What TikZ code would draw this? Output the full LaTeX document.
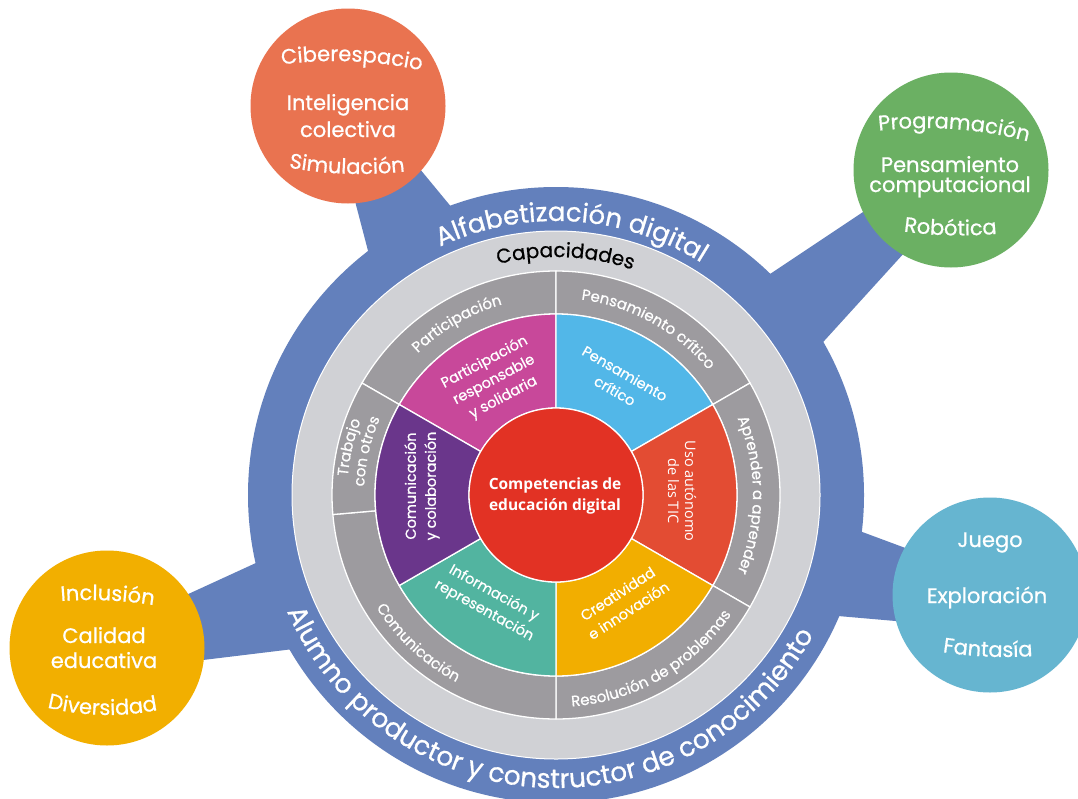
\documentclass[tikz,border=0pt]{standalone}
\usepackage{fontspec}
\usetikzlibrary{calc,decorations.text}
\newfontfamily\pop{Poppins}[FakeBold=0.7]
\newfontfamily\osans{Open Sans}
\definecolor{ringblue}{RGB}{99,128,188}
\definecolor{lgray}{RGB}{208,209,213}
\definecolor{mgray}{RGB}{157,155,159}
\definecolor{cred}{RGB}{226,50,36}
\definecolor{cpink}{RGB}{200,72,154}
\definecolor{clblue}{RGB}{82,183,232}
\definecolor{corange}{RGB}{227,76,51}
\definecolor{cyellow}{RGB}{242,174,0}
\definecolor{cteal}{RGB}{82,180,160}
\definecolor{cpurple}{RGB}{106,54,139}
\definecolor{sorange}{RGB}{233,115,80}
\definecolor{sgreen}{RGB}{107,176,99}
\definecolor{scyan}{RGB}{102,181,208}
\definecolor{syellow}{RGB}{242,175,0}
\newcommand\fAlf{\pop\fontsize{26}{30}\selectfont}
\newcommand\fAlu{\pop\fontsize{26.5}{30}\selectfont}
\newcommand\fCap{\pop\fontsize{20}{24}\selectfont}
\newcommand\fGray{\pop\fontsize{15}{18}\selectfont}
\newcommand\fSat{\pop\fontsize{21}{25}\selectfont}
\newcommand\fSeg{\pop\fontsize{14.5}{20}\selectfont}
% annular sector: colour, start, end, r in, r out
\newcommand\annsec[5]{\fill[#1,draw=white,line width=1.3pt] ($(C)+(#2:#4pt)$) arc[start angle=#2,end angle=#3,radius=#4pt] -- ($(C)+(#3:#5pt)$) arc[start angle=#3,end angle=#2,radius=#5pt] -- cycle;}
% text on ring, clockwise (tops outward): colour, centre angle, radius, half span, font, text
\newcommand\cwtext[6]{\pgfmathsetmacro\sa{#2+#4}\pgfmathsetmacro\ea{#2-#4}%
\path[decorate,decoration={text along path,text align=center,text color=#1,text={|#5|#6}}] ($(C)+(\sa:#3pt)$) arc[start angle=\sa,end angle=\ea,radius=#3pt];}
% text on ring, counter-clockwise (tops inward)
\newcommand\ccwtext[6]{\pgfmathsetmacro\sa{#2-#4}\pgfmathsetmacro\ea{#2+#4}%
\path[decorate,decoration={text along path,text align=center,text color=#1,text={|#5|#6}}] ($(C)+(\sa:#3pt)$) arc[start angle=\sa,end angle=\ea,radius=#3pt];}
% satellite arched text: apex x, apex y (image, down), R, centre angle, font, text
\newcommand\toptext[6]{\pgfmathsetmacro\sa{#4+40}\pgfmathsetmacro\ea{#4-40}\pgfmathsetmacro\cy{-#2-#3}%
\path[decorate,decoration={text along path,text align=center,text color=white,text={|#5|#6}}] ($(#1,\cy)+(\sa:#3pt)$) arc[start angle=\sa,end angle=\ea,radius=#3pt];}
\newcommand\bottext[6]{\pgfmathsetmacro\sa{#4-40}\pgfmathsetmacro\ea{#4+40}\pgfmathsetmacro\cy{-#2+#3}%
\path[decorate,decoration={text along path,text align=center,text color=white,text={|#5|#6}}] ($(#1,\cy)+(\sa:#3pt)$) arc[start angle=\sa,end angle=\ea,radius=#3pt];}
\tikzset{
  sat/.style={circle,inner sep=0pt,minimum size=195pt},
  satline/.style={anchor=base,inner sep=0pt,text=white,font=\fSat},
  seglbl/.style={inner sep=0pt,text=white,font=\fSeg,align=center},
  arm/.style={fill=ringblue}
}
\begin{document}
\begin{tikzpicture}[x=1pt,y=1pt]
\clip (0,0) rectangle (1078,-798);
\fill[white] (0,0) rectangle (1078,-798);
\coordinate (C) at (556,-495);
% arms
\fill[arm] (350,-182) -- (372,-266) -- (462,-220) -- (410,-157) -- cycle;
\fill[arm] (893,-192) -- (743,-292) -- (805,-362) -- (925,-230) -- cycle;
\fill[arm] (935,-559) -- (830,-520) -- (815,-614) -- (930,-624) -- cycle;
\fill[arm] (160,-607) -- (282,-551) -- (310,-647) -- (170,-664) -- cycle;
% rings
\fill[ringblue] (C) circle[radius=308pt];
\fill[lgray,draw=white,line width=1pt] (C) circle[radius=264pt];
\annsec{mgray}{90}{150}{181}{224}
\annsec{mgray}{30}{90}{181}{224}
\annsec{mgray}{-30}{30}{181}{224}
\annsec{mgray}{-90}{-30}{181}{224}
\annsec{mgray}{185}{270}{181}{224}
\annsec{mgray}{150}{185}{181}{224}
\annsec{cpink}{90}{150}{87}{181}
\annsec{clblue}{30}{90}{87}{181}
\annsec{corange}{-30}{30}{87}{181}
\annsec{cyellow}{-90}{-30}{87}{181}
\annsec{cteal}{210}{270}{87}{181}
\annsec{cpurple}{150}{210}{87}{181}
\fill[cred,draw=white,line width=1.3pt] (C) circle[radius=87pt];
% satellites
\node[sat,fill=sorange] (sat-or) at (348,-106) {};
\node[sat,fill=sgreen] (sat-gr) at (951,-170) {};
\node[sat,fill=syellow] (sat-ye) at (107,-648) {};
\node[sat,fill=scyan] (sat-cy) at (990,-595) {};
% ring titles
\cwtext{white}{86.5}{274}{70}{\fAlf}{Alfabetización digital}
\cwtext{black}{87.7}{238}{50}{\fCap}{Capacidades}
\ccwtext{white}{267.5}{293}{85}{\fAlu}{Alumno productor y constructor de conocimiento}
% capacities
\cwtext{white}{120}{198}{40}{\fGray}{Participación}
\cwtext{white}{61}{197}{40}{\fGray}{Pensamiento crítico}
\cwtext{white}{0}{197}{40}{\fGray}{Aprender a aprender}
\cwtext{white}{167}{209}{40}{\fGray}{Trabajo}
\cwtext{white}{167}{192}{40}{\fGray}{con otros}
\ccwtext{white}{227}{212}{40}{\fGray}{Comunicación}
\ccwtext{white}{300}{212}{40}{\fGray}{Resolución de problemas}
% competences
\node[seglbl,rotate=28] (lab-part) at (494,-380) {Participación\\responsable\\y solidaria};
\node[seglbl,rotate=-30] (lab-pens) at (620,-382) {Pensamiento\\crítico};
\node[seglbl,rotate=-90,font=\osans\fontsize{14.5}{17}\selectfont] (lab-uso) at (682,-491) {Uso autónomo\\de las TIC};
\node[seglbl,rotate=33] (lab-crea) at (623,-602) {Creatividad\\e innovación};
\node[seglbl,rotate=-29] (lab-info) at (489,-602) {Información y\\representación};
\node[seglbl,rotate=90] (lab-com) at (422,-486) {Comunicación\\y colaboración};
\node[inner sep=0pt,text=white,align=center,font=\osans\bfseries\fontsize{15.5}{21}\selectfont] (core) at (555,-496) {Competencias de\\educación digital};
% satellite texts
\toptext{335}{61}{400}{87.6}{\fSat}{Ciberespacio}
\node[satline] (or-2) at (348,-110) {Inteligencia};
\node[satline] (or-3) at (348,-137) {colectiva};
\bottext{360}{174}{400}{268.1}{\fSat}{Simulación}
\toptext{925}{128}{400}{85.85}{\fSat}{Programación}
\node[satline] (gr-2) at (950,-172) {Pensamiento};
\node[satline] (gr-3) at (950,-192) {computacional};
\bottext{960}{235.5}{400}{268.6}{\fSat}{Robótica}
\toptext{90}{600}{400}{87.5}{\fSat}{Inclusión}
\node[satline] (ye-2) at (104,-643) {Calidad};
\node[satline] (ye-3) at (104,-668) {educativa};
\bottext{108}{715}{250}{268.7}{\fSat}{Diversidad}
\node[satline] (cy-1) at (990,-547) {Juego};
\node[satline] (cy-2) at (987,-603) {Exploración};
\bottext{1005}{657}{400}{267.5}{\fSat}{Fantasía}
\end{tikzpicture}
\end{document}
